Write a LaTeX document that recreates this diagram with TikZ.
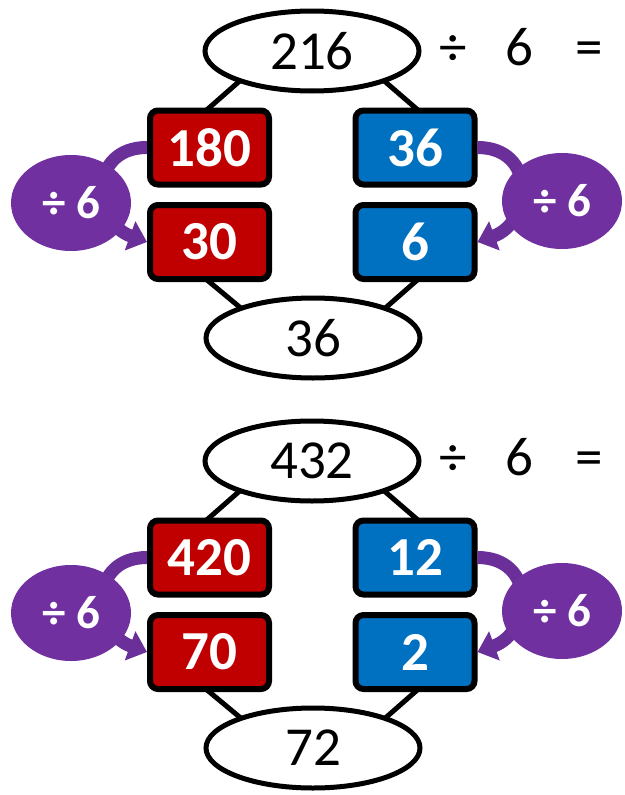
\documentclass[tikz,border=0pt]{standalone}
\usepackage{fontspec}
\setmainfont{Carlito}
\usetikzlibrary{arrows.meta,shapes.geometric,backgrounds}
\definecolor{cRed}{HTML}{C00000}
\definecolor{cBlue}{HTML}{0070C0}
\definecolor{cPurple}{HTML}{7030A0}
\definecolor{cArc}{HTML}{6B2F99}
\tikzset{
  oval/.style={ellipse,draw=black,line width=5pt,fill=white,minimum width=214pt,
               minimum height=80pt,inner sep=0pt,font=\fontsize{55}{60}\selectfont},
  numbox/.style={rounded corners=8pt,draw=black,line width=6pt,minimum width=119pt,
               minimum height=74pt,inner sep=0pt,text=white,
               font=\fontsize{55}{60}\selectfont\bfseries},
  opbubble/.style={ellipse,fill=cPurple,minimum width=120pt,minimum height=96pt,
               inner sep=0pt,text=white,font=\fontsize{47}{50}\selectfont\bfseries},
  optext/.style={anchor=base,inner sep=0pt,font=\fontsize{55}{60}\selectfont},
  link/.style={line width=5pt,black,shorten <=-5pt,shorten >=-5pt},
  turn/.style={-{Triangle[length=18pt,width=30pt]},line width=13pt,cArc},
}

\begin{document}
\begin{tikzpicture}[x=1pt,y=1pt]
  \useasboundingbox (0,0) rectangle (624,-795);
  \foreach \k/\whole/\ra/\rb/\ba/\bb/\res in {0/216/180/30/36/6/36,1/432/420/70/12/2/72}{
    \begin{scope}[yshift={-\k*410pt}]
      % split of the dividend
      \node[oval] (top\k) at (312,-51) {\whole};
      \node[optext] (dv\k) at (453,-65) {÷};
      \node[optext] (sx\k) at (519,-65) {6};
      \node[optext] (eq\k) at (589,-65) {=};
      \node[numbox,fill=cRed] (ra\k) at (209.5,-147.5) {\ra};
      \node[numbox,fill=cRed] (rb\k) at (209.5,-242) {\rb};
      \node[numbox,fill=cBlue] (ba\k) at (415,-147.5) {\ba};
      \node[numbox,fill=cBlue] (bb\k) at (415,-242) {\bb};
      \node[oval] (bot\k) at (313,-338) {\res};
      \begin{scope}[on background layer]
        \draw[link] (ra\k.north) -- (top\k.203);
        \draw[link] (ba\k.north) -- (top\k.337);
        \draw[link] (rb\k.south) -- (bot\k.157);
        \draw[link] (bb\k.south) -- (bot\k.23);
      \end{scope}
      % divide each part by 6
      \draw[turn] (ra\k.west) to[out=180,in=160,looseness=1.6] (rb\k.west);
      \draw[turn] (ba\k.east) to[out=0,in=20,looseness=1.6] (bb\k.east);
      \node[opbubble] (ol\k) at (71,-203) {÷ 6};
      \node[opbubble] (or\k) at (562,-201) {÷ 6};
    \end{scope}
  }
\end{tikzpicture}
\end{document}
